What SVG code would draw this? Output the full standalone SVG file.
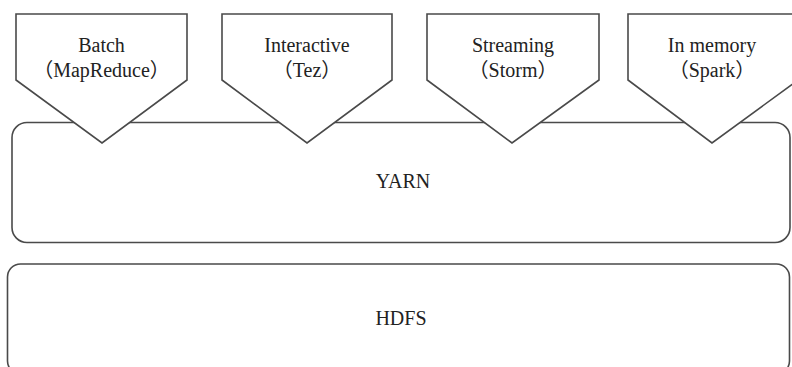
<svg xmlns="http://www.w3.org/2000/svg" width="792" height="367" viewBox="0 0 792 367">
  <style>
    .box { fill: #ffffff; stroke: #4a4a4a; stroke-width: 1.6; }
    .tag { fill: #ffffff; stroke: #4a4a4a; stroke-width: 1.6; stroke-linejoin: miter; }
    .lbl { font-family: "Liberation Serif", "Noto Sans CJK SC", serif; font-size: 20px; fill: #222222; text-anchor: middle; }
  </style>
  <rect width="792" height="367" fill="#ffffff"/>

  <!-- storage layer -->
  <g id="hdfs">
    <rect class="box" x="7.5" y="264" width="782" height="110" rx="13" ry="13"/>
    <text class="lbl" x="401" y="325">HDFS</text>
  </g>

  <!-- resource manager layer -->
  <g id="yarn">
    <rect class="box" x="12" y="122.5" width="778" height="120" rx="15" ry="15"/>
    <text class="lbl" x="403" y="188">YARN</text>
  </g>

  <!-- processing engines, each a downward-pointing tag -->
  <g id="batch">
    <polygon class="tag" points="16,14 187,14 187,80 102,143 16,80"/>
    <text class="lbl" x="101.5" y="52">Batch</text>
    <text class="lbl" x="101.5" y="77">（MapReduce）</text>
  </g>
  <g id="interactive">
    <polygon class="tag" points="222,14 392,14 392,80 307,143 222,80"/>
    <text class="lbl" x="307" y="52">Interactive</text>
    <text class="lbl" x="307" y="77">（Tez）</text>
  </g>
  <g id="streaming">
    <polygon class="tag" points="427,14 599,14 599,80 512,143 427,80"/>
    <text class="lbl" x="513" y="52">Streaming</text>
    <text class="lbl" x="513" y="77">（Storm）</text>
  </g>
  <g id="inmemory">
    <polygon class="tag" points="628,14 798,14 798,80 712,143 628,80"/>
    <text class="lbl" x="712" y="52">In memory</text>
    <text class="lbl" x="712" y="77">（Spark）</text>
  </g>

  <g id="connectors"></g>
</svg>
